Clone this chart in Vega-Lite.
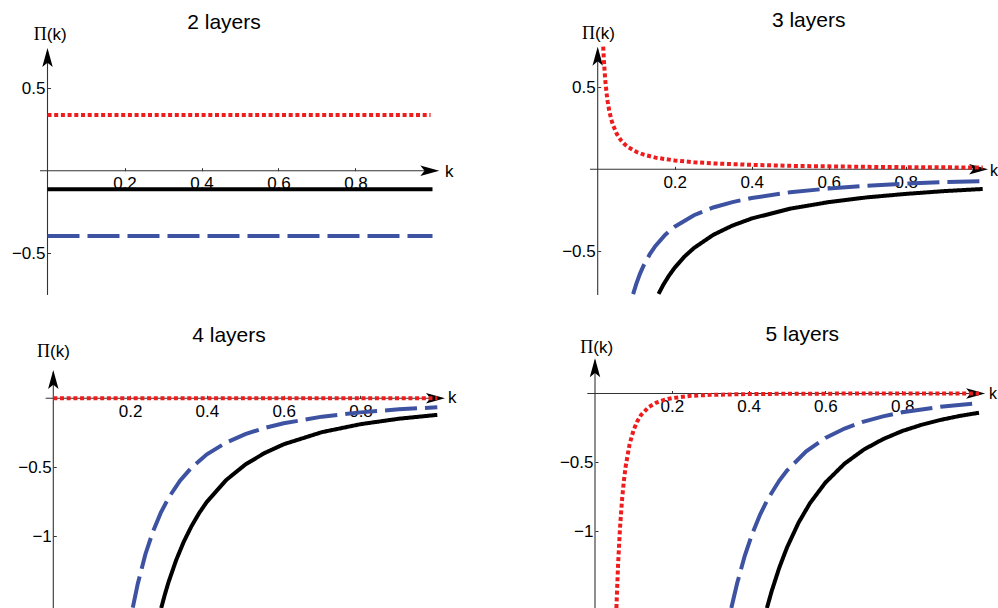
{
  "$schema": "https://vega.github.io/schema/vega-lite/v6.json",
  "padding": 0,
  "spacing": 0,
  "config": {"view": {"stroke": null}, "font": "Liberation Sans", "concat": {"spacing": 0},
    "axis": {"domain": false, "grid": false, "tickSize": -3, "tickColor": "#333333", "labelFont": "Liberation Sans", "labelFontSize": 17, "labelColor": "#000000", "labelFlush": false, "labelOverlap": false, "title": null}},
  "datasets": {
    "curves": [
      {"p":1,"s":"solid","k":0,"v":-0.113},{"p":1,"s":"solid","k":1,"v":-0.113},
      {"p":1,"s":"dashed","k":0,"v":-0.396},{"p":1,"s":"dashed","k":1,"v":-0.396},
      {"p":1,"s":"dotted","k":0,"v":0.338},{"p":1,"s":"dotted","k":0.995,"v":0.338},

      {"p":2,"s":"dotted","k":0.0143,"v":0.748},{"p":2,"s":"dotted","k":0.016,"v":0.669},{"p":2,"s":"dotted","k":0.018,"v":0.594},{"p":2,"s":"dotted","k":0.02,"v":0.535},{"p":2,"s":"dotted","k":0.023,"v":0.465},{"p":2,"s":"dotted","k":0.026,"v":0.412},{"p":2,"s":"dotted","k":0.03,"v":0.357},{"p":2,"s":"dotted","k":0.035,"v":0.306},{"p":2,"s":"dotted","k":0.04,"v":0.268},{"p":2,"s":"dotted","k":0.05,"v":0.214},{"p":2,"s":"dotted","k":0.06,"v":0.178},{"p":2,"s":"dotted","k":0.07,"v":0.153},{"p":2,"s":"dotted","k":0.08,"v":0.134},{"p":2,"s":"dotted","k":0.1,"v":0.107},{"p":2,"s":"dotted","k":0.12,"v":0.089},{"p":2,"s":"dotted","k":0.15,"v":0.071},{"p":2,"s":"dotted","k":0.2,"v":0.054},{"p":2,"s":"dotted","k":0.25,"v":0.043},{"p":2,"s":"dotted","k":0.3,"v":0.036},{"p":2,"s":"dotted","k":0.4,"v":0.027},{"p":2,"s":"dotted","k":0.5,"v":0.021},{"p":2,"s":"dotted","k":0.6,"v":0.018},{"p":2,"s":"dotted","k":0.7,"v":0.015},{"p":2,"s":"dotted","k":0.8,"v":0.013},{"p":2,"s":"dotted","k":0.9,"v":0.012},{"p":2,"s":"dotted","k":1.0,"v":0.011},
      {"p":2,"s":"dashed","k":0.092,"v":-0.761},{"p":2,"s":"dashed","k":0.1,"v":-0.70},{"p":2,"s":"dashed","k":0.11,"v":-0.636},{"p":2,"s":"dashed","k":0.12,"v":-0.583},{"p":2,"s":"dashed","k":0.135,"v":-0.519},{"p":2,"s":"dashed","k":0.15,"v":-0.467},{"p":2,"s":"dashed","k":0.175,"v":-0.40},{"p":2,"s":"dashed","k":0.2,"v":-0.35},{"p":2,"s":"dashed","k":0.25,"v":-0.28},{"p":2,"s":"dashed","k":0.3,"v":-0.233},{"p":2,"s":"dashed","k":0.35,"v":-0.2},{"p":2,"s":"dashed","k":0.4,"v":-0.175},{"p":2,"s":"dashed","k":0.5,"v":-0.14},{"p":2,"s":"dashed","k":0.6,"v":-0.117},{"p":2,"s":"dashed","k":0.7,"v":-0.1},{"p":2,"s":"dashed","k":0.8,"v":-0.0875},{"p":2,"s":"dashed","k":0.9,"v":-0.078},{"p":2,"s":"dashed","k":1.0,"v":-0.072},
      {"p":2,"s":"solid","k":0.158,"v":-0.76},{"p":2,"s":"solid","k":0.17,"v":-0.706},{"p":2,"s":"solid","k":0.185,"v":-0.649},{"p":2,"s":"solid","k":0.2,"v":-0.6},{"p":2,"s":"solid","k":0.225,"v":-0.533},{"p":2,"s":"solid","k":0.25,"v":-0.48},{"p":2,"s":"solid","k":0.3,"v":-0.4},{"p":2,"s":"solid","k":0.35,"v":-0.343},{"p":2,"s":"solid","k":0.4,"v":-0.3},{"p":2,"s":"solid","k":0.5,"v":-0.24},{"p":2,"s":"solid","k":0.6,"v":-0.2},{"p":2,"s":"solid","k":0.7,"v":-0.171},{"p":2,"s":"solid","k":0.8,"v":-0.15},{"p":2,"s":"solid","k":0.9,"v":-0.133},{"p":2,"s":"solid","k":1.0,"v":-0.12},

      {"p":3,"s":"dotted","k":0,"v":0},{"p":3,"s":"dotted","k":1,"v":0},
      {"p":3,"s":"dashed","k":0.207,"v":-1.517},{"p":3,"s":"dashed","k":0.22,"v":-1.343},{"p":3,"s":"dashed","k":0.24,"v":-1.128},{"p":3,"s":"dashed","k":0.26,"v":-0.962},{"p":3,"s":"dashed","k":0.28,"v":-0.829},{"p":3,"s":"dashed","k":0.3,"v":-0.722},{"p":3,"s":"dashed","k":0.33,"v":-0.597},{"p":3,"s":"dashed","k":0.36,"v":-0.502},{"p":3,"s":"dashed","k":0.4,"v":-0.406},{"p":3,"s":"dashed","k":0.45,"v":-0.321},{"p":3,"s":"dashed","k":0.5,"v":-0.26},{"p":3,"s":"dashed","k":0.55,"v":-0.215},{"p":3,"s":"dashed","k":0.6,"v":-0.181},{"p":3,"s":"dashed","k":0.7,"v":-0.133},{"p":3,"s":"dashed","k":0.8,"v":-0.102},{"p":3,"s":"dashed","k":0.9,"v":-0.08},{"p":3,"s":"dashed","k":1.0,"v":-0.065},
      {"p":3,"s":"solid","k":0.281,"v":-1.52},{"p":3,"s":"solid","k":0.29,"v":-1.427},{"p":3,"s":"solid","k":0.3,"v":-1.333},{"p":3,"s":"solid","k":0.32,"v":-1.172},{"p":3,"s":"solid","k":0.34,"v":-1.038},{"p":3,"s":"solid","k":0.36,"v":-0.926},{"p":3,"s":"solid","k":0.38,"v":-0.831},{"p":3,"s":"solid","k":0.4,"v":-0.75},{"p":3,"s":"solid","k":0.45,"v":-0.593},{"p":3,"s":"solid","k":0.5,"v":-0.48},{"p":3,"s":"solid","k":0.55,"v":-0.397},{"p":3,"s":"solid","k":0.6,"v":-0.333},{"p":3,"s":"solid","k":0.7,"v":-0.245},{"p":3,"s":"solid","k":0.8,"v":-0.1875},{"p":3,"s":"solid","k":0.9,"v":-0.148},{"p":3,"s":"solid","k":1.0,"v":-0.12},

      {"p":4,"s":"dotted","k":0.0557,"v":-1.56},{"p":4,"s":"dotted","k":0.06,"v":-1.25},{"p":4,"s":"dotted","k":0.065,"v":-0.983},{"p":4,"s":"dotted","k":0.07,"v":-0.787},{"p":4,"s":"dotted","k":0.075,"v":-0.64},{"p":4,"s":"dotted","k":0.08,"v":-0.527},{"p":4,"s":"dotted","k":0.09,"v":-0.37},{"p":4,"s":"dotted","k":0.1,"v":-0.27},{"p":4,"s":"dotted","k":0.11,"v":-0.203},{"p":4,"s":"dotted","k":0.12,"v":-0.156},{"p":4,"s":"dotted","k":0.14,"v":-0.098},{"p":4,"s":"dotted","k":0.16,"v":-0.066},{"p":4,"s":"dotted","k":0.18,"v":-0.046},{"p":4,"s":"dotted","k":0.2,"v":-0.034},{"p":4,"s":"dotted","k":0.25,"v":-0.017},{"p":4,"s":"dotted","k":0.3,"v":-0.01},{"p":4,"s":"dotted","k":0.4,"v":-0.004},{"p":4,"s":"dotted","k":0.5,"v":-0.002},{"p":4,"s":"dotted","k":0.6,"v":-0.001},{"p":4,"s":"dotted","k":0.8,"v":0},{"p":4,"s":"dotted","k":1.0,"v":0},
      {"p":4,"s":"dashed","k":0.355,"v":-1.56},{"p":4,"s":"dashed","k":0.37,"v":-1.382},{"p":4,"s":"dashed","k":0.39,"v":-1.18},{"p":4,"s":"dashed","k":0.41,"v":-1.016},{"p":4,"s":"dashed","k":0.43,"v":-0.88},{"p":4,"s":"dashed","k":0.45,"v":-0.768},{"p":4,"s":"dashed","k":0.48,"v":-0.633},{"p":4,"s":"dashed","k":0.5,"v":-0.56},{"p":4,"s":"dashed","k":0.55,"v":-0.421},{"p":4,"s":"dashed","k":0.6,"v":-0.324},{"p":4,"s":"dashed","k":0.65,"v":-0.255},{"p":4,"s":"dashed","k":0.7,"v":-0.204},{"p":4,"s":"dashed","k":0.75,"v":-0.166},{"p":4,"s":"dashed","k":0.8,"v":-0.137},{"p":4,"s":"dashed","k":0.9,"v":-0.096},{"p":4,"s":"dashed","k":1.0,"v":-0.07},
      {"p":4,"s":"solid","k":0.4477,"v":-1.56},{"p":4,"s":"solid","k":0.46,"v":-1.438},{"p":4,"s":"solid","k":0.48,"v":-1.266},{"p":4,"s":"solid","k":0.5,"v":-1.12},{"p":4,"s":"solid","k":0.53,"v":-0.94},{"p":4,"s":"solid","k":0.56,"v":-0.797},{"p":4,"s":"solid","k":0.6,"v":-0.648},{"p":4,"s":"solid","k":0.65,"v":-0.51},{"p":4,"s":"solid","k":0.7,"v":-0.408},{"p":4,"s":"solid","k":0.75,"v":-0.332},{"p":4,"s":"solid","k":0.8,"v":-0.273},{"p":4,"s":"solid","k":0.85,"v":-0.228},{"p":4,"s":"solid","k":0.9,"v":-0.192},{"p":4,"s":"solid","k":0.95,"v":-0.163},{"p":4,"s":"solid","k":1.0,"v":-0.14}
    ]
  },
  "vconcat": [
    {
      "spacing": 0,
      "hconcat": [
        {
          "width": 499, "height": 304,
          "layer": [
            {"data": {"values": [{}]}, "mark": {"type": "rule", "color": "#333333", "strokeWidth": 1.1},
             "encoding": {"x": {"datum": 0, "type": "quantitative", "scale": {"domain": [-0.12338, 1.17273], "nice": false, "zero": false},
                                "axis": {"orient": "bottom", "offset": -133.3, "values": [0.2, 0.4, 0.6, 0.8], "format": ".1f", "labelPadding": 8}},
                          "y": {"datum": -0.753, "type": "quantitative", "scale": {"domain": [-0.80788, 1.03455], "nice": false, "zero": false},
                                "axis": {"orient": "left", "offset": -47.5, "values": [-0.5, 0.5], "format": "~g", "labelPadding": 5.5}},
                          "y2": {"datum": 0.72}}},
            {"data": {"values": [{}]}, "mark": {"type": "rule", "color": "#333333", "strokeWidth": 1.1},
             "encoding": {"x": {"datum": -0.0195, "type": "quantitative"}, "x2": {"datum": 1.0}, "y": {"datum": 0, "type": "quantitative"}}},
            {"data": {"values": [{}]}, "mark": {"type": "point", "shape": "M0,0L0.55,2L0,1.55L-0.55,2Z", "size": 361, "filled": true, "color": "#000000", "opacity": 1, "strokeWidth": 0},
             "encoding": {"x": {"datum": 0, "type": "quantitative"}, "y": {"datum": 0.744, "type": "quantitative"}}},
            {"data": {"values": [{}]}, "mark": {"type": "point", "shape": "M0,0L-2,-0.55L-1.55,0L-2,0.55Z", "size": 361, "filled": true, "color": "#000000", "opacity": 1, "strokeWidth": 0},
             "encoding": {"x": {"datum": 1.0177, "type": "quantitative"}, "y": {"datum": 0, "type": "quantitative"}}},
            {"data": {"name": "curves"}, "transform": [{"filter": "datum.p == 1"}],
             "mark": {"type": "line", "strokeCap": "butt"},
             "encoding": {
               "x": {"field": "k", "type": "quantitative"},
               "y": {"field": "v", "type": "quantitative"},
               "color": {"field": "s", "type": "nominal", "scale": {"domain": ["solid", "dashed", "dotted"], "range": ["#000000", "#3d52a1", "#ee1c1c"]}, "legend": null},
               "strokeDash": {"field": "s", "type": "nominal", "scale": {"domain": ["solid", "dashed", "dotted"], "range": [[1, 0], [32, 8], [4, 2.7]]}, "legend": null},
               "strokeWidth": {"field": "s", "type": "nominal", "scale": {"domain": ["solid", "dashed", "dotted"], "range": [4, 4, 3.6]}, "legend": null}
             }},
            {"data": {"values": [{}]}, "mark": {"type": "text", "text": "2 layers", "font": "Liberation Sans", "fontSize": 21, "align": "center", "baseline": "alphabetic", "color": "#000000"},
             "encoding": {"x": {"datum": 0.4584, "type": "quantitative"}, "y": {"datum": 0.857, "type": "quantitative"}}},
            {"data": {"values": [{}]}, "mark": {"type": "text", "text": "Π", "font": "Liberation Serif", "fontSize": 18, "align": "right", "baseline": "alphabetic", "color": "#000000"},
             "encoding": {"x": {"datum": -0.002, "type": "quantitative"}, "y": {"datum": 0.792, "type": "quantitative"}}},
            {"data": {"values": [{}]}, "mark": {"type": "text", "text": "(k)", "font": "Liberation Sans", "fontSize": 17, "align": "left", "baseline": "alphabetic", "color": "#000000"},
             "encoding": {"x": {"datum": -0.002, "type": "quantitative"}, "y": {"datum": 0.792, "type": "quantitative"}}},
            {"data": {"values": [{}]}, "mark": {"type": "text", "text": "k", "font": "Liberation Sans", "fontSize": 17, "align": "left", "baseline": "alphabetic", "color": "#000000"},
             "encoding": {"x": {"datum": 1.0325, "type": "quantitative"}, "y": {"datum": -0.04, "type": "quantitative"}}}
          ]
        },
        {
          "width": 499, "height": 304,
          "layer": [
            {"data": {"values": [{}]}, "mark": {"type": "rule", "color": "#333333", "strokeWidth": 1.1},
             "encoding": {"x": {"datum": 0, "type": "quantitative", "scale": {"domain": [-0.25636, 1.03974], "nice": false, "zero": false},
                                "axis": {"orient": "bottom", "offset": -134.7, "values": [0.2, 0.4, 0.6, 0.8], "format": ".1f", "labelPadding": 8}},
                          "y": {"datum": -0.766, "type": "quantitative", "scale": {"domain": [-0.82134, 1.03232], "nice": false, "zero": false},
                                "axis": {"orient": "left", "offset": -98.7, "values": [-0.5, 0.5], "format": "~g", "labelPadding": 5.5}},
                          "y2": {"datum": 0.73}}},
            {"data": {"values": [{}]}, "mark": {"type": "rule", "color": "#333333", "strokeWidth": 1.1},
             "encoding": {"x": {"datum": -0.02, "type": "quantitative"}, "x2": {"datum": 1.0}, "y": {"datum": 0, "type": "quantitative"}}},
            {"data": {"values": [{}]}, "mark": {"type": "point", "shape": "M0,0L0.55,2L0,1.55L-0.55,2Z", "size": 361, "filled": true, "color": "#000000", "opacity": 1, "strokeWidth": 0},
             "encoding": {"x": {"datum": 0, "type": "quantitative"}, "y": {"datum": 0.748, "type": "quantitative"}}},
            {"data": {"values": [{}]}, "mark": {"type": "point", "shape": "M0,0L-2,-0.55L-1.55,0L-2,0.55Z", "size": 361, "filled": true, "color": "#000000", "opacity": 1, "strokeWidth": 0},
             "encoding": {"x": {"datum": 1.014, "type": "quantitative"}, "y": {"datum": 0, "type": "quantitative"}}},
            {"data": {"name": "curves"}, "transform": [{"filter": "datum.p == 2"}],
             "mark": {"type": "line", "strokeCap": "butt"},
             "encoding": {
               "x": {"field": "k", "type": "quantitative"},
               "y": {"field": "v", "type": "quantitative"},
               "color": {"field": "s", "type": "nominal", "scale": {"domain": ["solid", "dashed", "dotted"], "range": ["#000000", "#3d52a1", "#ee1c1c"]}, "legend": null},
               "strokeDash": {"field": "s", "type": "nominal", "scale": {"domain": ["solid", "dashed", "dotted"], "range": [[1, 0], [32, 8], [4, 2.7]]}, "legend": null},
               "strokeWidth": {"field": "s", "type": "nominal", "scale": {"domain": ["solid", "dashed", "dotted"], "range": [4, 4, 3.6]}, "legend": null}
             }},
            {"data": {"values": [{}]}, "mark": {"type": "text", "text": "3 layers", "font": "Liberation Sans", "fontSize": 21, "align": "center", "baseline": "alphabetic", "color": "#000000"},
             "encoding": {"x": {"datum": 0.548, "type": "quantitative"}, "y": {"datum": 0.8695, "type": "quantitative"}}},
            {"data": {"values": [{}]}, "mark": {"type": "text", "text": "Π", "font": "Liberation Serif", "fontSize": 18, "align": "right", "baseline": "alphabetic", "color": "#000000"},
             "encoding": {"x": {"datum": -0.007, "type": "quantitative"}, "y": {"datum": 0.793, "type": "quantitative"}}},
            {"data": {"values": [{}]}, "mark": {"type": "text", "text": "(k)", "font": "Liberation Sans", "fontSize": 17, "align": "left", "baseline": "alphabetic", "color": "#000000"},
             "encoding": {"x": {"datum": -0.007, "type": "quantitative"}, "y": {"datum": 0.793, "type": "quantitative"}}},
            {"data": {"values": [{}]}, "mark": {"type": "text", "text": "k", "font": "Liberation Sans", "fontSize": 16, "align": "left", "baseline": "alphabetic", "color": "#000000"},
             "encoding": {"x": {"datum": 1.019, "type": "quantitative"}, "y": {"datum": -0.04, "type": "quantitative"}}}
          ]
        }
      ]
    },
    {
      "spacing": 0,
      "hconcat": [
        {
          "width": 499, "height": 304,
          "layer": [
            {"data": {"values": [{}]}, "mark": {"type": "rule", "color": "#333333", "strokeWidth": 1.1},
             "encoding": {"x": {"datum": 0, "type": "quantitative", "scale": {"domain": [-0.1388, 1.16068], "nice": false, "zero": false},
                                "axis": {"orient": "bottom", "offset": -209.7, "values": [0.2, 0.4, 0.6, 0.8], "format": ".1f", "labelPadding": 8}},
                          "y": {"datum": -1.519, "type": "quantitative", "scale": {"domain": [-1.51957, 0.68333], "nice": false, "zero": false},
                                "axis": {"orient": "left", "offset": -53.3, "values": [-1, -0.5], "format": "~g", "labelPadding": 5}},
                          "y2": {"datum": 0.19}}},
            {"data": {"values": [{}]}, "mark": {"type": "rule", "color": "#333333", "strokeWidth": 1.1},
             "encoding": {"x": {"datum": -0.02, "type": "quantitative"}, "x2": {"datum": 1.0}, "y": {"datum": 0, "type": "quantitative"}}},
            {"data": {"values": [{}]}, "mark": {"type": "point", "shape": "M0,0L0.55,2L0,1.55L-0.55,2Z", "size": 361, "filled": true, "color": "#000000", "opacity": 1, "strokeWidth": 0},
             "encoding": {"x": {"datum": 0, "type": "quantitative"}, "y": {"datum": 0.205, "type": "quantitative"}}},
            {"data": {"values": [{}]}, "mark": {"type": "point", "shape": "M0,0L-2,-0.55L-1.55,0L-2,0.55Z", "size": 361, "filled": true, "color": "#000000", "opacity": 1, "strokeWidth": 0},
             "encoding": {"x": {"datum": 1.02, "type": "quantitative"}, "y": {"datum": 0, "type": "quantitative"}}},
            {"data": {"name": "curves"}, "transform": [{"filter": "datum.p == 3"}],
             "mark": {"type": "line", "strokeCap": "butt"},
             "encoding": {
               "x": {"field": "k", "type": "quantitative"},
               "y": {"field": "v", "type": "quantitative"},
               "color": {"field": "s", "type": "nominal", "scale": {"domain": ["solid", "dashed", "dotted"], "range": ["#000000", "#3d52a1", "#ee1c1c"]}, "legend": null},
               "strokeDash": {"field": "s", "type": "nominal", "scale": {"domain": ["solid", "dashed", "dotted"], "range": [[1, 0], [32, 8], [4, 2.7]]}, "legend": null},
               "strokeWidth": {"field": "s", "type": "nominal", "scale": {"domain": ["solid", "dashed", "dotted"], "range": [4, 4, 3.6]}, "legend": null}
             }},
            {"data": {"values": [{}]}, "mark": {"type": "text", "text": "4 layers", "font": "Liberation Sans", "fontSize": 21, "align": "center", "baseline": "alphabetic", "color": "#000000"},
             "encoding": {"x": {"datum": 0.4576, "type": "quantitative"}, "y": {"datum": 0.406, "type": "quantitative"}}},
            {"data": {"values": [{}]}, "mark": {"type": "text", "text": "Π", "font": "Liberation Serif", "fontSize": 18, "align": "right", "baseline": "alphabetic", "color": "#000000"},
             "encoding": {"x": {"datum": -0.0086, "type": "quantitative"}, "y": {"datum": 0.301, "type": "quantitative"}}},
            {"data": {"values": [{}]}, "mark": {"type": "text", "text": "(k)", "font": "Liberation Sans", "fontSize": 17, "align": "left", "baseline": "alphabetic", "color": "#000000"},
             "encoding": {"x": {"datum": -0.0086, "type": "quantitative"}, "y": {"datum": 0.301, "type": "quantitative"}}},
            {"data": {"values": [{}]}, "mark": {"type": "text", "text": "k", "font": "Liberation Sans", "fontSize": 17, "align": "left", "baseline": "alphabetic", "color": "#000000"},
             "encoding": {"x": {"datum": 1.028, "type": "quantitative"}, "y": {"datum": -0.036, "type": "quantitative"}}}
          ]
        },
        {
          "width": 499, "height": 304,
          "layer": [
            {"data": {"values": [{}]}, "mark": {"type": "rule", "color": "#333333", "strokeWidth": 1.1},
             "encoding": {"x": {"datum": 0, "type": "quantitative", "scale": {"domain": [-0.25, 1.04948], "nice": false, "zero": false},
                                "axis": {"orient": "bottom", "offset": -214.5, "values": [0.2, 0.4, 0.6, 0.8], "format": ".1f", "labelPadding": 8}},
                          "y": {"datum": -1.56, "type": "quantitative", "scale": {"domain": [-1.56, 0.65091], "nice": false, "zero": false},
                                "axis": {"orient": "left", "offset": -96, "values": [-1, -0.5], "format": "~g", "labelPadding": 5}},
                          "y2": {"datum": 0.24}}},
            {"data": {"values": [{}]}, "mark": {"type": "rule", "color": "#333333", "strokeWidth": 1.1},
             "encoding": {"x": {"datum": -0.02, "type": "quantitative"}, "x2": {"datum": 1.0}, "y": {"datum": 0, "type": "quantitative"}}},
            {"data": {"values": [{}]}, "mark": {"type": "point", "shape": "M0,0L0.55,2L0,1.55L-0.55,2Z", "size": 361, "filled": true, "color": "#000000", "opacity": 1, "strokeWidth": 0},
             "encoding": {"x": {"datum": 0, "type": "quantitative"}, "y": {"datum": 0.256, "type": "quantitative"}}},
            {"data": {"values": [{}]}, "mark": {"type": "point", "shape": "M0,0L-2,-0.55L-1.55,0L-2,0.55Z", "size": 361, "filled": true, "color": "#000000", "opacity": 1, "strokeWidth": 0},
             "encoding": {"x": {"datum": 1.016, "type": "quantitative"}, "y": {"datum": 0, "type": "quantitative"}}},
            {"data": {"name": "curves"}, "transform": [{"filter": "datum.p == 4"}],
             "mark": {"type": "line", "strokeCap": "butt"},
             "encoding": {
               "x": {"field": "k", "type": "quantitative"},
               "y": {"field": "v", "type": "quantitative"},
               "color": {"field": "s", "type": "nominal", "scale": {"domain": ["solid", "dashed", "dotted"], "range": ["#000000", "#3d52a1", "#ee1c1c"]}, "legend": null},
               "strokeDash": {"field": "s", "type": "nominal", "scale": {"domain": ["solid", "dashed", "dotted"], "range": [[1, 0], [32, 8], [4, 2.7]]}, "legend": null},
               "strokeWidth": {"field": "s", "type": "nominal", "scale": {"domain": ["solid", "dashed", "dotted"], "range": [4, 4, 3.6]}, "legend": null}
             }},
            {"data": {"values": [{}]}, "mark": {"type": "text", "text": "5 layers", "font": "Liberation Sans", "fontSize": 21, "align": "center", "baseline": "alphabetic", "color": "#000000"},
             "encoding": {"x": {"datum": 0.54, "type": "quantitative"}, "y": {"datum": 0.384, "type": "quantitative"}}},
            {"data": {"values": [{}]}, "mark": {"type": "text", "text": "Π", "font": "Liberation Serif", "fontSize": 18, "align": "right", "baseline": "alphabetic", "color": "#000000"},
             "encoding": {"x": {"datum": -0.0044, "type": "quantitative"}, "y": {"datum": 0.297, "type": "quantitative"}}},
            {"data": {"values": [{}]}, "mark": {"type": "text", "text": "(k)", "font": "Liberation Sans", "fontSize": 17, "align": "left", "baseline": "alphabetic", "color": "#000000"},
             "encoding": {"x": {"datum": -0.0044, "type": "quantitative"}, "y": {"datum": 0.297, "type": "quantitative"}}},
            {"data": {"values": [{}]}, "mark": {"type": "text", "text": "k", "font": "Liberation Sans", "fontSize": 16, "align": "left", "baseline": "alphabetic", "color": "#000000"},
             "encoding": {"x": {"datum": 1.026, "type": "quantitative"}, "y": {"datum": -0.042, "type": "quantitative"}}}
          ]
        }
      ]
    }
  ]
}
